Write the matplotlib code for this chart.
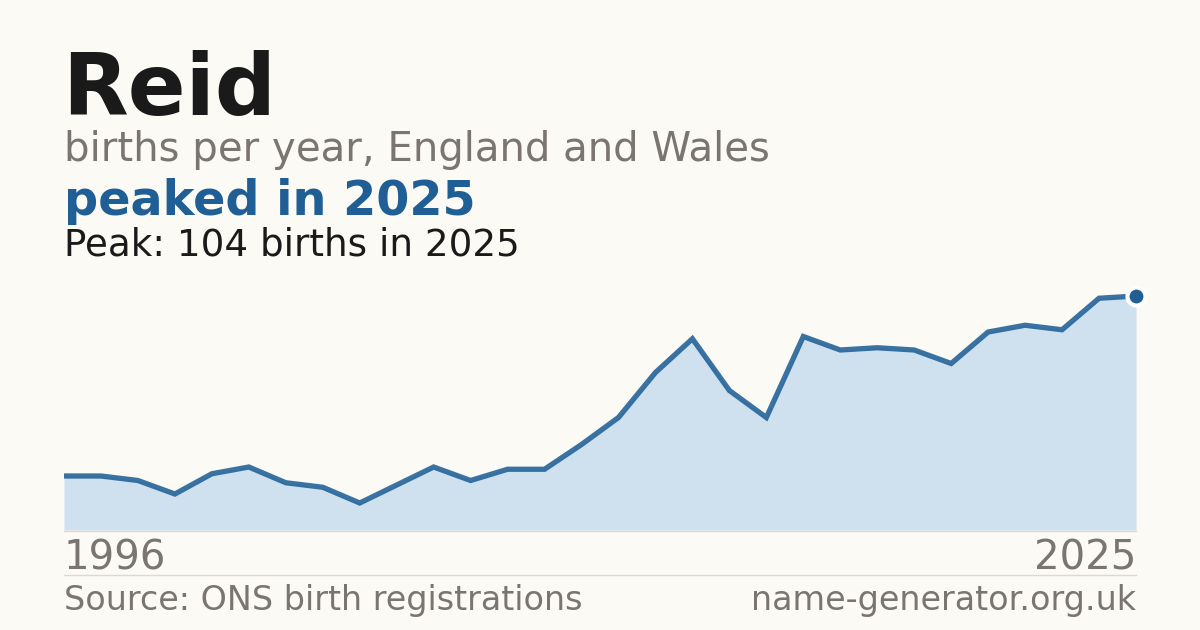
import matplotlib
matplotlib.use("Agg")
import matplotlib.pyplot as plt

years = list(range(1996, 2026))
births = [24, 24, 22, 16, 25, 28, 21, 19, 12, 20,
          28, 22, 27, 27, 38, 50, 70, 85, 62, 50,
          86, 80, 81, 80, 74, 88, 91, 89, 103, 104]

name = "Reid"
subtitle = "births per year, England and Wales"
headline = "peaked in 2025"
peak_note = "Peak: 104 births in 2025"
source = "Source: ONS birth registrations"
site = "name-generator.org.uk"

BG = "#fbfaf5"
INK = "#1a1a1a"
GREY = "#7a756e"
BLUE = "#1f5f96"
FILL = "#cfe0ef"
RULE = "#dcd9d2"

W, H = 1200, 630
fig = plt.figure(figsize=(12, 6.3), dpi=100, facecolor=BG)

def fy(py):
    return 1 - py / H

# plot area: x 64..1136, bottom at y=530
ax = fig.add_axes([64 / W, fy(530), (1136 - 64) / W, (530 - 270) / H])
ax.set_facecolor(BG)
ax.fill_between(years, births, 0, color=FILL, lw=0, zorder=1)
ax.plot(years, births, color=BLUE, lw=3.8, alpha=0.88, solid_joinstyle="miter", zorder=2)
ax.plot(years[-1], births[-1], "o", ms=13, color=BLUE, mec="white", mew=3,
        zorder=3, clip_on=False)
ax.set_xlim(years[0], years[-1])
ax.set_ylim(0, max(births) * 260 / 234)
ax.axis("off")
ax.patch.set_visible(False)

# baseline and separator
fig.add_artist(plt.Line2D([64 / W, 1136 / W], [fy(530.5), fy(530.5)], color=RULE, lw=1))
fig.add_artist(plt.Line2D([64 / W, 1136 / W], [fy(574.5), fy(574.5)], color=RULE, lw=1))

fig.text(62 / W, fy(115), name, fontsize=61.5, fontweight="bold", color=INK, va="baseline")
fig.text(64 / W, fy(161), subtitle, fontsize=29, color=GREY, va="baseline")
fig.text(64 / W, fy(215), headline, fontsize=34.4, fontweight="bold", color=BLUE, va="baseline")
fig.text(64 / W, fy(255), peak_note, fontsize=26.8, color=INK, va="baseline")

fig.text(64 / W, fy(570), str(years[0]), fontsize=29, color=GREY, va="baseline")
fig.text(1136 / W, fy(570), str(years[-1]), fontsize=29, color=GREY, va="baseline", ha="right")
fig.text(64 / W, fy(610), source, fontsize=24, color=GREY, va="baseline")
fig.text(1136 / W, fy(610), site, fontsize=24, color=GREY, va="baseline", ha="right")

fig.savefig("out.png", dpi=100, facecolor=BG)
